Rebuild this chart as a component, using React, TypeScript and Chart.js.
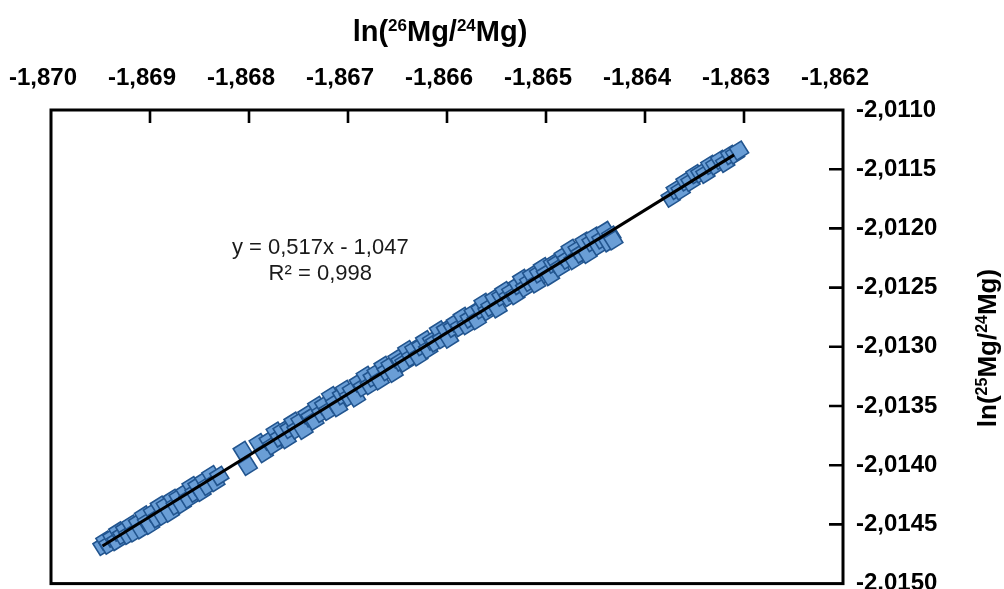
import React, { useEffect, useRef } from 'react';
import { Chart, registerables } from 'chart.js';

Chart.register(...registerables);

const FONT = '"Liberation Sans", Arial, sans-serif';

// Axis ticks
const xTickValues = [-1.87, -1.869, -1.868, -1.867, -1.866, -1.865, -1.864, -1.863, -1.862];
const xTickLabels = ['-1,870', '-1,869', '-1,868', '-1,867', '-1,866', '-1,865', '-1,864', '-1,863', '-1,862'];
const yTickValues = [-2.011, -2.0115, -2.012, -2.0125, -2.013, -2.0135, -2.014, -2.0145, -2.015];
const yTickLabels = ['-2,0110', '-2,0115', '-2,0120', '-2,0125', '-2,0130', '-2,0135', '-2,0140', '-2,0145', '-2,0150'];

// Titles (text runs, superscript flag)
const xTitleRuns: [string, boolean][] = [['ln(', false], ['26', true], ['Mg/', false], ['24', true], ['Mg)', false]];
const yTitleRuns: [string, boolean][] = [['ln(', false], ['25', true], ['Mg/', false], ['24', true], ['Mg)', false]];

// Regression annotation
const equationLines = ['y = 0,517x - 1,047', 'R\u00B2 = 0,998'];

// Regression line end points
const fitLineX = [-1.86948, -1.8631];
const fitLineY = [-2.014683, -2.011379];

// Measurements: ln(26Mg/24Mg)
const sampleX = [
  -1.86948, -1.86945, -1.86942, -1.86938, -1.86934, -1.86932, -1.86928, -1.86925, -1.86922, -1.86919,
  -1.86916, -1.86912, -1.86909, -1.86906, -1.86903, -1.869, -1.86897, -1.86893, -1.8689, -1.86887,
  -1.86884, -1.8688, -1.86877, -1.86874, -1.86871, -1.86868, -1.86864, -1.86861, -1.86858, -1.86855,
  -1.86852, -1.86848, -1.86845, -1.86842, -1.86838, -1.86834, -1.8683,
  -1.868063, -1.868013, -1.867902, -1.867851,
  -1.8678, -1.86776, -1.86773, -1.86769, -1.86766, -1.86762, -1.86759, -1.86755, -1.86752, -1.86748,
  -1.86745, -1.86741, -1.86738, -1.86734, -1.86731, -1.86727, -1.86724, -1.8672, -1.86717, -1.86713,
  -1.8671, -1.86706, -1.86703, -1.86699, -1.86696, -1.86692, -1.86689, -1.86685, -1.86682, -1.86678,
  -1.86675, -1.86671, -1.86668, -1.86664, -1.86661, -1.86657, -1.86654, -1.8665, -1.86647, -1.86643,
  -1.8664, -1.86636, -1.86633, -1.86629, -1.86626, -1.86622, -1.86619, -1.86615, -1.86612, -1.86608,
  -1.86605, -1.86601, -1.86598, -1.86594, -1.86591, -1.86587, -1.86584, -1.8658, -1.86577, -1.86573,
  -1.8657, -1.86566, -1.86563, -1.86559, -1.86556, -1.86552, -1.86549, -1.86545, -1.86542, -1.86538,
  -1.86535, -1.86531, -1.86528, -1.86524, -1.86521, -1.86517, -1.86514, -1.8651, -1.86507, -1.86503,
  -1.865, -1.86496, -1.86493, -1.86489, -1.86486, -1.86482, -1.86479, -1.86475, -1.86472, -1.86468,
  -1.86465, -1.86461, -1.86458, -1.86454, -1.86451, -1.86447, -1.86444, -1.8644, -1.86437, -1.86434,
  -1.86432,
  -1.86374, -1.86369, -1.86364, -1.86359, -1.86354, -1.86349, -1.86344, -1.86339, -1.86334, -1.86329,
  -1.86324, -1.86319, -1.86314, -1.86309, -1.86305,
];

// Measurements: ln(25Mg/24Mg)
const sampleY = [
  -2.014682, -2.014637, -2.014671, -2.014611, -2.01464, -2.01456, -2.014589, -2.014543, -2.014588, -2.014502,
  -2.014567, -2.014486, -2.014541, -2.014425, -2.01448, -2.014504, -2.014398, -2.014448, -2.014342, -2.014427,
  -2.014341, -2.0144, -2.014285, -2.014339, -2.014274, -2.014328, -2.014228, -2.014282, -2.014176, -2.014231,
  -2.014175, -2.014225, -2.014129, -2.014174, -2.014083, -2.014142, -2.014091,
  -2.01388, -2.014006, -2.013813, -2.013897,
  -2.013793, -2.013832, -2.013716, -2.013766, -2.01371, -2.013779, -2.013694, -2.013633, -2.013698, -2.013627,
  -2.013701, -2.013571, -2.013595, -2.013624, -2.013499, -2.013558, -2.013493, -2.013542, -2.013416, -2.013476,
  -2.01351, -2.013409, -2.013364, -2.013423, -2.013368, -2.013427, -2.013301, -2.013341, -2.013245, -2.013324,
  -2.013259, -2.013218, -2.013283, -2.013162, -2.013206, -2.013156, -2.01322, -2.013099, -2.013124, -2.013133,
  -2.013028, -2.013087, -2.013021, -2.013081, -2.012995, -2.012944, -2.013019, -2.012948, -2.012963, -2.012862,
  -2.012936, -2.012856, -2.01293, -2.012839, -2.012794, -2.012833, -2.012748, -2.012817, -2.012761, -2.012711,
  -2.012775, -2.012684, -2.012629, -2.012698, -2.012663, -2.012592, -2.012676, -2.012576, -2.01253, -2.01258,
  -2.012534, -2.012563, -2.012478, -2.012427, -2.012501, -2.012451, -2.012395, -2.012465, -2.012379, -2.012328,
  -2.012383, -2.012402, -2.012297, -2.012296, -2.01233, -2.01223, -2.012264, -2.012173, -2.012268, -2.012177,
  -2.012212, -2.012111, -2.012215, -2.012115, -2.012069, -2.012148, -2.012093, -2.012022, -2.012117, -2.012061,
  -2.012101,
  -2.01174, -2.011674, -2.011679, -2.011603, -2.011607, -2.011541, -2.011535, -2.011539, -2.011463, -2.011467,
  -2.011421, -2.011446, -2.01138, -2.011374, -2.011343,
];

function runsWidth(ctx: CanvasRenderingContext2D, runs: [string, boolean][], big: number, small: number) {
  let w = 0;
  for (const [t, sup] of runs) {
    ctx.font = `bold ${sup ? small : big}px ${FONT}`;
    w += ctx.measureText(t).width;
  }
  return w;
}

function drawRuns(ctx: CanvasRenderingContext2D, runs: [string, boolean][], startX: number, baseY: number, big: number, small: number) {
  let x = startX;
  ctx.textAlign = 'left';
  ctx.textBaseline = 'alphabetic';
  for (const [t, sup] of runs) {
    ctx.font = `bold ${sup ? small : big}px ${FONT}`;
    ctx.fillText(t, x, sup ? baseY - big * 0.36 : baseY);
    x += ctx.measureText(t).width;
  }
}

const decorPlugin = {
  id: 'decor',
  afterDraw(chart: any) {
    const { ctx, chartArea: a, scales } = chart;
    const xs = scales.x;
    const ys = scales.y;
    ctx.save();
    // frame
    ctx.strokeStyle = '#000';
    ctx.lineWidth = 3;
    ctx.strokeRect(a.left, a.top, a.right - a.left, a.bottom - a.top);
    // inward tick marks
    ctx.lineWidth = 2.6;
    ctx.beginPath();
    xTickValues.forEach((v, i) => {
      if (i === 0 || i === xTickValues.length - 1) return;
      const px = xs.getPixelForValue(v);
      ctx.moveTo(px, a.top);
      ctx.lineTo(px, a.top + 13);
    });
    yTickValues.forEach((v, i) => {
      if (i === 0 || i === yTickValues.length - 1) return;
      const py = ys.getPixelForValue(v);
      ctx.moveTo(a.right, py);
      ctx.lineTo(a.right - 14, py);
    });
    ctx.stroke();

    // regression annotation
    ctx.fillStyle = '#1a1a1a';
    ctx.font = `22px ${FONT}`;
    ctx.textAlign = 'center';
    ctx.textBaseline = 'middle';
    const ex = xs.getPixelForValue(-1.86728);
    ctx.fillText(equationLines[0], ex, ys.getPixelForValue(-2.012165));
    ctx.fillText(equationLines[1], ex, ys.getPixelForValue(-2.012383));

    // titles
    ctx.fillStyle = '#000';
    const wx = runsWidth(ctx, xTitleRuns, 29, 17);
    drawRuns(ctx, xTitleRuns, 440 - wx / 2, 41, 29, 17);

    const wy = runsWidth(ctx, yTitleRuns, 26, 16);
    ctx.translate(996, 348);
    ctx.rotate(-Math.PI / 2);
    drawRuns(ctx, yTitleRuns, -wy / 2, 0, 26, 16);
    ctx.restore();
  },
};

export default function App() {
  const ref = useRef<HTMLCanvasElement>(null);

  useEffect(() => {
    if (!ref.current) return;
    const tickFont = { family: FONT, size: 24, weight: 'bold' as const };
    const chart = new Chart(ref.current, {
      type: 'scatter',
      data: {
        datasets: [
          {
            type: 'line',
            label: 'fit',
            data: fitLineX.map((x, i) => ({ x, y: fitLineY[i] })),
            borderColor: '#000',
            borderWidth: 3,
            pointRadius: 0,
            fill: false,
            order: 0,
          } as any,
          {
            type: 'scatter',
            label: 'samples',
            data: sampleX.map((x, i) => ({ x, y: sampleY[i] })),
            pointStyle: 'rect',
            pointRotation: -32,
            pointRadius: 9.8,
            pointBackgroundColor: '#6a9ed6',
            pointBorderColor: '#22558f',
            pointBorderWidth: 1.6,
            order: 1,
          } as any,
        ],
      },
      options: {
        animation: false,
        responsive: false,
        events: [],
        layout: { padding: { left: 51, top: 0, right: 0, bottom: 0 } },
        plugins: { legend: { display: false }, tooltip: { enabled: false } },
        scales: {
          x: {
            type: 'linear',
            position: 'top',
            min: -1.87,
            max: -1.862,
            grid: { display: false, drawTicks: false },
            border: { display: false },
            afterBuildTicks: (s: any) => {
              s.ticks = xTickValues.map((v) => ({ value: v }));
            },
            afterFit: (s: any) => {
              s.height = 110;
              s.paddingLeft = 0;
              s.paddingRight = 0;
            },
            ticks: {
              callback: (_v: any, i: number) => xTickLabels[i],
              font: tickFont,
              color: '#000',
              padding: 17,
              labelOffset: -8,
              maxRotation: 0,
              autoSkip: false,
            },
          },
          y: {
            type: 'linear',
            position: 'right',
            min: -2.015,
            max: -2.011,
            grid: { display: false, drawTicks: false },
            border: { display: false },
            afterBuildTicks: (s: any) => {
              s.ticks = yTickValues.map((v) => ({ value: v }));
            },
            afterFit: (s: any) => {
              s.width = 161;
              s.paddingTop = 0;
              s.paddingBottom = 0;
            },
            ticks: {
              callback: (_v: any, i: number) => yTickLabels[i],
              font: tickFont,
              color: '#000',
              padding: 13,
              autoSkip: false,
            },
          },
        },
      },
      plugins: [decorPlugin],
    });
    return () => chart.destroy();
  }, []);

  return (
    <div style={{ position: 'fixed', left: 0, top: 0, width: 1004, height: 589, overflow: 'hidden', background: '#fff' }}>
      <canvas ref={ref} width={1004} height={595} style={{ display: 'block' }} />
    </div>
  );
}
